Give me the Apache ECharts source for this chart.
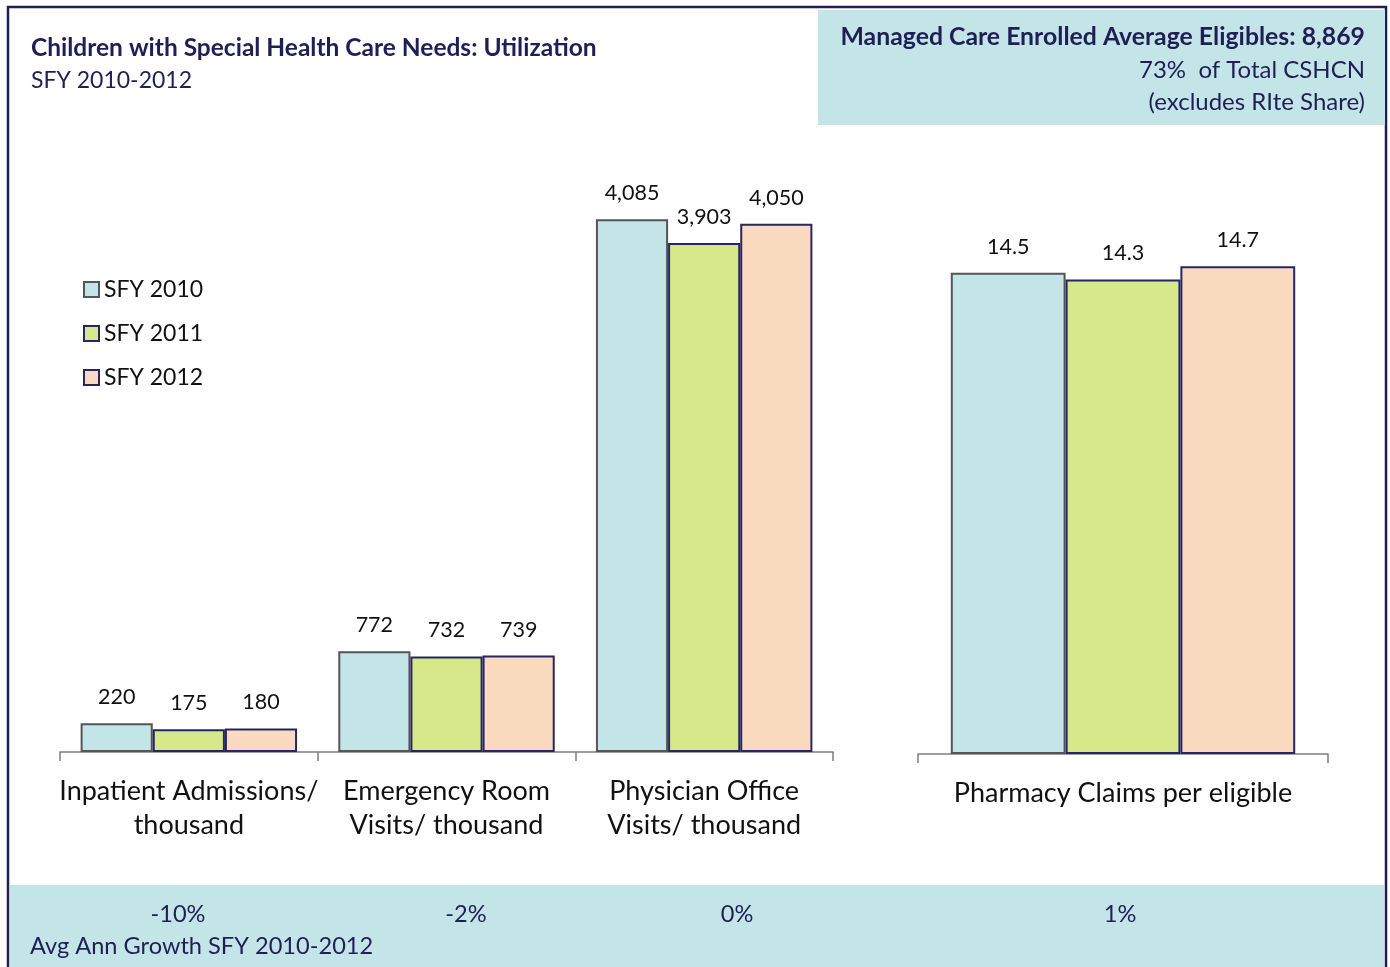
<!DOCTYPE html>
<html>
<head>
<meta charset="utf-8">
<script src="https://cdn.jsdelivr.net/npm/echarts@6/dist/echarts.min.js"></script>
<style>
  html, body { margin: 0; padding: 0; background: #ffffff; }
  #chart { width: 1390px; height: 967px; }
</style>
</head>
<body>
<div id="chart"></div>
<script>
// Utilization per thousand (left panel) and pharmacy claims per eligible (right panel)
const rateCategories = ['Inpatient Admissions/\nthousand', 'Emergency Room\nVisits/ thousand', 'Physician Office\nVisits/ thousand'];
const pharmacyCategories = ['Pharmacy Claims per eligible'];
const seriesNames = ['SFY 2010', 'SFY 2011', 'SFY 2012'];
const rates2010 = [220, 772, 4085];
const rates2011 = [175, 732, 3903];
const rates2012 = [180, 739, 4050];
const pharmacy2010 = [14.5];
const pharmacy2011 = [14.3];
const pharmacy2012 = [14.7];
const growthLabels = ['-10%', '-2%', '0%', '1%'];

const FONT = 'Lato, "Open Sans", sans-serif';
const NAVY = '#1f1f55';
const fills = ['#c3e5e8', '#d6e889', '#fbdbc0'];
const borders = ['#555555', '#262660', '#262660'];

const rateData = [rates2010, rates2011, rates2012];
const pharmData = [pharmacy2010, pharmacy2011, pharmacy2012];

function fmt(v) {
  return Number.isInteger(v) ? v.toLocaleString('en-US') : v.toFixed(1);
}

const series = [];
seriesNames.forEach((name, i) => {
  const common = {
    name: name,
    type: 'bar',
    barGap: '0%',
    barCategoryGap: '16%',
    itemStyle: { color: fills[i], borderColor: borders[i], borderWidth: 2 },
    label: {
      show: true, position: 'top', distance: 15,
      fontFamily: FONT, fontSize: 21.5, color: '#111111',
      formatter: p => fmt(p.value)
    },
    emphasis: { disabled: true }
  };
  series.push(Object.assign({}, common, { xAxisIndex: 0, yAxisIndex: 0, data: rateData[i] }));
  series.push(Object.assign({}, common, { xAxisIndex: 1, yAxisIndex: 1, data: pharmData[i] }));
});

const axisCommon = {
  type: 'category',
  axisLine: { lineStyle: { color: '#7f7f7f', width: 1.5 } },
  axisTick: { show: true, length: 9, lineStyle: { color: '#7f7f7f', width: 1.5 } },
  axisLabel: { fontFamily: FONT, fontSize: 27, color: '#111111', lineHeight: 34, margin: 22, interval: 0 }
};

// Growth row positions across the bottom band
const growthX = [178, 466, 737, 1120];

const option = {
  animation: false,
  backgroundColor: '#ffffff',
  legend: {
    orient: 'vertical',
    left: 83, top: 278, padding: 0,
    itemWidth: 15, itemHeight: 15, itemGap: 21,
    icon: 'rect',
    textStyle: { fontFamily: FONT, fontSize: 23, color: '#111111', padding: [0, 0, 0, 0] },
    data: seriesNames
  },
  grid: [
    { left: 60, right: 557, top: 165, bottom: 215 },
    { left: 918, width: 410, top: 223, bottom: 213 }
  ],
  xAxis: [
    Object.assign({ gridIndex: 0, data: rateCategories }, axisCommon),
    Object.assign({ gridIndex: 1, data: pharmacyCategories }, axisCommon)
  ],
  yAxis: [
    { gridIndex: 0, type: 'value', min: 0, max: 4500, show: false, splitLine: { show: false } },
    { gridIndex: 1, type: 'value', min: 0, max: 16, show: false, splitLine: { show: false } }
  ],
  series: series,
  graphic: [
    // outer frame
    { type: 'rect', z: -10, shape: { x: 8, y: 7, width: 1378, height: 980 },
      style: { fill: 'none', stroke: NAVY, lineWidth: 2.5 } },
    // enrollment box
    { type: 'rect', z: -5, shape: { x: 818, y: 10, width: 567, height: 115 },
      style: { fill: '#c3e5e8' } },
    { type: 'text', right: 25, top: 25, style: { text: 'Managed Care Enrolled Average Eligibles: 8,869',
      font: 'bold 24.8px ' + FONT, fill: NAVY, textAlign: 'right' } },
    { type: 'text', right: 25, top: 58, style: { text: '73%  of Total CSHCN',
      font: '24px ' + FONT, fill: NAVY, textAlign: 'right' } },
    { type: 'text', right: 25, top: 90, style: { text: '(excludes RIte Share)',
      font: '24px ' + FONT, fill: NAVY, textAlign: 'right' } },
    // title
    { type: 'text', left: 31, top: 36, style: { text: 'Children with Special Health Care Needs: Utilization',
      font: 'bold 24.5px ' + FONT, fill: NAVY } },
    { type: 'text', left: 31, top: 69, style: { text: 'SFY 2010-2012',
      font: '23px ' + FONT, fill: NAVY } },
    // growth band
    { type: 'rect', z: -5, shape: { x: 10, y: 885, width: 1374, height: 90 },
      style: { fill: '#c3e5e8' } },
    { type: 'text', left: 30, top: 934, style: { text: 'Avg Ann Growth SFY 2010-2012',
      font: '23.6px ' + FONT, fill: NAVY } }
  ].concat(growthLabels.map((g, i) => ({
      type: 'text', x: growthX[i], y: 914,
      style: { text: g, font: '23.6px ' + FONT, fill: NAVY, textAlign: 'center', textVerticalAlign: 'middle' }
  })))
};

const chart = echarts.init(document.getElementById('chart'), null, { renderer: 'canvas' });
chart.setOption(option);
</script>
</body>
</html>
